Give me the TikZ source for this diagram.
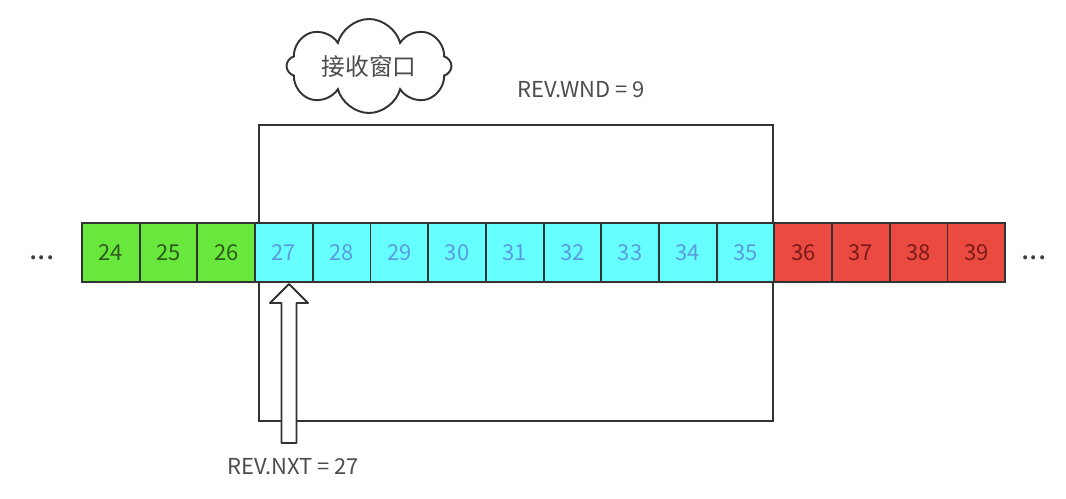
\documentclass[tikz,border=0pt]{standalone}
\usepackage{fontspec}
\setmainfont{Noto Sans CJK SC}
\usetikzlibrary{shapes.symbols}

\definecolor{cellgreen}{RGB}{104,232,60}
\definecolor{cellcyan}{RGB}{102,255,255}
\definecolor{cellred}{RGB}{234,74,64}
\definecolor{txtgreen}{RGB}{46,90,28}
\definecolor{txtblue}{RGB}{90,155,224}
\definecolor{txtred}{RGB}{122,26,26}

\begin{document}
\begin{tikzpicture}	[
		x = 0.02cm, y = -0.02cm,
		line width = 1.1pt,
		c/.style = {
			draw = black!80,
			minimum width = 1.154cm,
			minimum height = 1.18cm,
			inner sep = 0pt,
			font = \fontsize{12.5}{14}\selectfont
		},
		g/.style = {c, fill=cellgreen, text=txtgreen},
		b/.style = {c, fill=cellcyan, text=txtblue},
		r/.style = {c, fill=cellred, text=txtred},
		lbl/.style = {text=black!70, font=\fontsize{12.5}{14}\selectfont},
		dots/.style = {text=black!75, font=\fontsize{17}{18}\selectfont}
	]
	\useasboundingbox (0,0) rectangle (1066,498);

	% receive window
	\node (wnd) [draw=black!80, minimum width=10.28cm, minimum height=5.92cm] at (516,273) {};
	\node (wndlbl) [lbl] at (581,90) {REV.WND = 9};

	\foreach \n/\s in {24/g,25/g,26/g,27/b,28/b,29/b,30/b,31/b,32/b,33/b,34/b,35/b,36/r,37/r,38/r,39/r}
		\node [\s] (c\n) at ({110.85+57.7*(\n-24)},252.2) {\n};

	\node (ldots) [dots] at (42,258) {...};
	\node (rdots) [dots] at (1034,258) {...};

	\node (cloud) [cloud, draw=black!80, fill=white, cloud puffs=8, aspect=2.8,
		minimum width=3.3cm, text=black!70,
		font=\fontsize{13.5}{15}\selectfont] at (369,66) {接收窗口};

	% next expected byte
	\draw [black!80, fill=white, line join=round]
		(289,284) -- (308,303) -- (296.5,303) -- (296.5,443)
		-- (281.5,443) -- (281.5,303) -- (270,303) -- cycle;
	\node (nxt) [lbl] at (293,467) {REV.NXT = 27};
\end{tikzpicture}
\end{document}
